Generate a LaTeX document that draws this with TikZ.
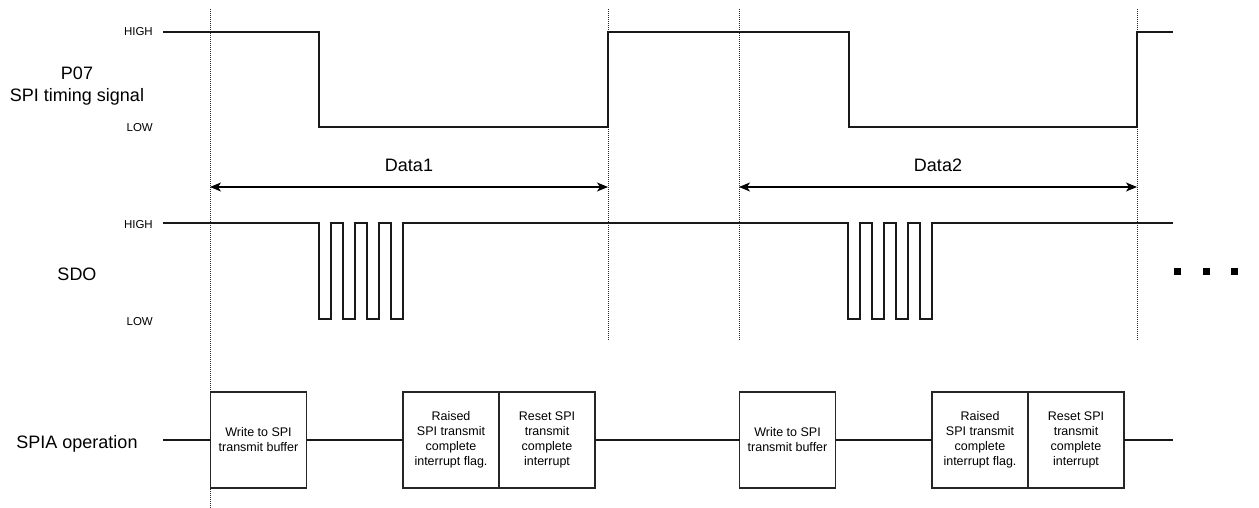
\documentclass[tikz,border=0pt]{standalone}
\usepackage{fontspec}
\setmainfont{Liberation Sans}
\usetikzlibrary{arrows.meta, positioning}
\tikzset{
  sig/.style={line width=1.3pt, draw=black!90},
  guide/.style={line width=1pt, draw=black!85, dash pattern=on 1pt off 1pt},
  opbox/.style={draw=black!85, line width=1.3pt, fill=white, minimum width=96pt, minimum height=96pt, inner sep=1pt, outer sep=0pt, align=center, font=\fontsize{12.5}{15}\selectfont},
  level/.style={anchor=base east, inner sep=0pt, font=\fontsize{11.5}{13}\selectfont},
  signame/.style={align=center, inner sep=0pt, font=\fontsize{18}{22}\selectfont},
  datalabel/.style={inner sep=0pt, font=\fontsize{18}{22}\selectfont},
  span/.style={{Stealth[length=11pt,width=9pt,inset=3pt]}-{Stealth[length=11pt,width=9pt,inset=3pt]}, line width=1.3pt}
}
\begin{document}
\begin{tikzpicture}[x=1pt,y=-1pt]
\useasboundingbox (0,0) rectangle (1259,508);

% signal names and levels
\node[signame] (p07) at (77,86) {P07\\SPI timing signal};
\node[signame, anchor=base] (sdo) at (77,280) {SDO};
\node[signame, anchor=base] (spia) at (77,448) {SPIA operation};
\foreach \y/\lv/\nm in {36/HIGH/ph, 131.5/LOW/pl, 228/HIGH/sh, 325/LOW/sl}
  \node[level] (\nm) at (153,\y) {\lv};

% dotted guides
\foreach \x/\b [count=\i] in {210/508, 608/340, 739/340, 1137/340}
  \draw[guide] (\x,9) coordinate (gt\i) -- (\x,\b) coordinate (gb\i);

% P07 timing signal
\draw[sig] (163,32) -- (319,32) -- (319,127) -- (608,127) -- (608,32)
  -- (849,32) -- (849,127) -- (1137,127) -- (1137,32) -- (1173,32);

% data spans
\coordinate (a1) at (210,187);
\coordinate (a2) at (608,187);
\coordinate (a3) at (739,187);
\coordinate (a4) at (1137,187);
\draw[span] (a1) -- (a2) node[datalabel, midway, above=15pt] (d1) {Data1};
\draw[span] (a3) -- (a4) node[datalabel, midway, above=15pt] (d2) {Data2};

% SDO
\draw[sig] (163,223)
  foreach \s in {319,848} {
    foreach \k in {0,24,48,72} {
      -- (\s+\k,223) -- (\s+\k,319) -- (\s+\k+12,319) -- (\s+\k+12,223)
    }
  }
  -- (1173,223);
\foreach \x in {1177,1206,1234}
  \fill (\x-3.5,268) rectangle +(7,7);

% SPIA operation
\foreach \o/\n in {0/1, 529/2} {
  \node[opbox] (w\n) at (258.5+\o,440) {Write to SPI\\transmit buffer};
  \node[opbox] (r\n) at (451+\o,440) {Raised\\SPI transmit\\complete\\interrupt flag.};
  \node[opbox, right=0pt of r\n] (c\n) {Reset SPI\\transmit\\complete\\interrupt};
}
\coordinate (sL) at (163,440);
\coordinate (sR) at (1173,440);
\draw[sig] (sL) -- (w1.west) (w1.east) -- (r1.west) (c1.east) -- (w2.west)
  (w2.east) -- (r2.west) (c2.east) -- (sR);
\end{tikzpicture}
\end{document}
